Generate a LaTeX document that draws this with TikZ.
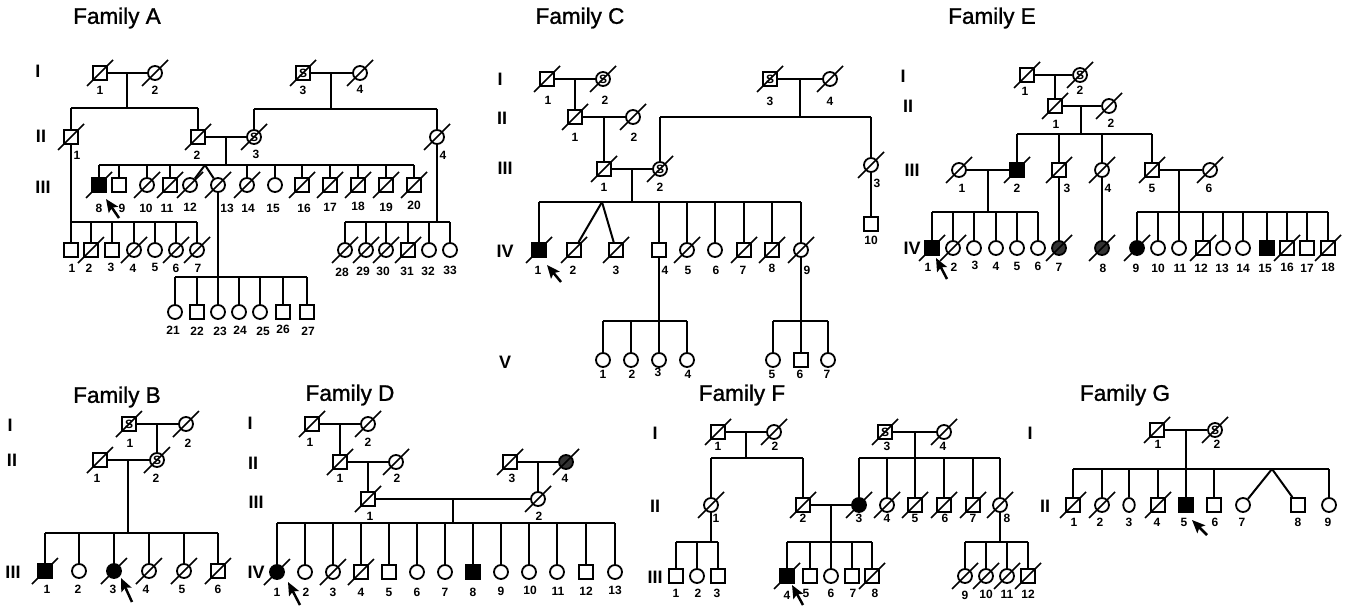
\documentclass[tikz,border=0pt]{standalone}
\usepackage{fontspec}
\setmainfont{Liberation Sans}
\newfontfamily\famfont{Liberation Sans}[FakeBold=1.2]
\usetikzlibrary{arrows.meta,shapes.geometric}

\tikzset{
  sq/.style={draw, rectangle, line width=1.8pt, minimum size=14pt, inner sep=0pt, fill=white},
  ci/.style={draw, circle, line width=1.8pt, minimum size=14pt, inner sep=0pt, fill=white},
  el/.style={draw, ellipse, line width=1.8pt, minimum width=11.5pt, minimum height=14pt, inner sep=0pt, fill=white},
  aff/.style={fill=black},
  grey/.style={fill=black!80},
  stxt/.style={font=\bfseries\fontsize{12}{12}\selectfont, inner sep=0pt},
  S/.style={label={[stxt]center:S}},
  slash/.style={line width=1.7pt},
  num/.style={font=\bfseries\fontsize{12}{12}\selectfont, inner sep=0pt},
  gen/.style={font=\bfseries\fontsize{18}{18}\selectfont, inner sep=0pt},
  title/.style={font=\famfont\fontsize{22.5}{22.5}\selectfont, inner sep=0pt},
  prob/.style={line width=2.5pt, -{Stealth[length=13pt,width=11pt,inset=2.5pt]}},
}

% #1 symbol style, #2 deceased flag, #3 name, #4 x, #5 y, #6 number, #7 number offset
\newcommand\pers[7]{%
  \node[#1] (#3) at (#4,#5) {};
  \ifnum#2=1\relax\draw[slash] ([shift={(-13,13)}]#3.center) -- ([shift={(13,-13)}]#3.center);\fi
  \node[num] (#3n) at ([shift={(#7)}]#3.center) {#6};
}

\begin{document}
\begin{tikzpicture}[x=1pt, y=-1pt, line width=2pt]
\fill[white] (0,0) rectangle (1348,607);
\useasboundingbox (0,0) rectangle (1348,607);

% ================= Family A =================
\node[title] (tA) at (117,18) {Family A};
\node[gen] (gA1) at (38,71) {I};
\node[gen] (gA2) at (41,136) {II};
\node[gen] (gA3) at (43,187) {III};

\pers{sq}{1}{A1-1}{100}{73}{1}{0,17}
\pers{ci}{1}{A1-2}{155}{73}{2}{0,17}
\pers{sq,S}{1}{A1-3}{303}{73}{3}{0,17}
\pers{ci}{1}{A1-4}{360}{73}{4}{0,16}
\pers{sq}{1}{A2-1}{71}{137}{1}{6,18}
\pers{sq}{1}{A2-2}{198}{137}{2}{-1,18}
\pers{ci,S}{1}{A2-3}{254}{137}{3}{2,17}
\pers{ci}{1}{A2-4}{437}{137}{4}{6,18}

\pers{sq,aff}{1}{A3-8}{99}{185}{8}{0,23}
\pers{sq}{0}{A3-9}{119}{185}{9}{3,23}
\pers{ci}{1}{A3-10}{147}{185}{10}{-1,23}
\pers{sq}{1}{A3-11}{170}{185}{11}{-3,23}
\pers{ci}{1}{A3-12}{190}{185}{12}{0,22}
\pers{ci}{1}{A3-13}{218}{185}{13}{9,23}
\pers{ci}{1}{A3-14}{247}{185}{14}{1,23}
\pers{ci}{0}{A3-15}{275}{185}{15}{-2,23}
\pers{sq}{1}{A3-16}{302}{185}{16}{2,23}
\pers{sq}{1}{A3-17}{330}{185}{17}{0,22}
\pers{sq}{1}{A3-18}{358}{185}{18}{0,21}
\pers{sq}{1}{A3-19}{386}{185}{19}{0,22}
\pers{sq}{1}{A3-20}{414}{185}{20}{0,20}

\pers{sq}{0}{A4-1}{71}{250}{1}{1,18}
\pers{sq}{1}{A4-2}{91}{250}{2}{-2,18}
\pers{sq}{0}{A4-3}{112}{250}{3}{-1,17}
\pers{ci}{1}{A4-4}{134}{250}{4}{-1,18}
\pers{ci}{0}{A4-5}{155}{250}{5}{0,17}
\pers{ci}{1}{A4-6}{176}{250}{6}{0,18}
\pers{ci}{1}{A4-7}{197}{250}{7}{1,18}

\pers{ci}{1}{A4-28}{345}{250}{28}{-3,22}
\pers{ci}{1}{A4-29}{366}{250}{29}{-3,21}
\pers{ci}{1}{A4-30}{386}{250}{30}{-3,21}
\pers{sq}{1}{A4-31}{408}{250}{31}{-1,21}
\pers{ci}{0}{A4-32}{429}{250}{32}{-1,21}
\pers{ci}{0}{A4-33}{450}{250}{33}{0,20}

\pers{ci}{0}{A4-21}{175}{312}{21}{-2,18}
\pers{sq}{0}{A4-22}{197}{312}{22}{0,19}
\pers{ci}{0}{A4-23}{218}{312}{23}{2,19}
\pers{ci}{0}{A4-24}{239}{312}{24}{1,18}
\pers{ci}{0}{A4-25}{260}{312}{25}{3,19}
\pers{sq}{0}{A4-26}{283}{312}{26}{0,17}
\pers{sq}{0}{A4-27}{307}{312}{27}{1,19}

\draw (A1-1) -- (A1-2);
\coordinate (A1m) at (127,73);
\coordinate (A2sL) at (71,108); \coordinate (A2sR) at (198,108);
\draw (A1m) -- (A1m |- A2sL);
\draw (A2sL) -- (A2sR);
\draw (A2sL) -- (A2-1); \draw (A2sR) -- (A2-2);
\draw (A1-3) -- (A1-4);
\coordinate (A1m2) at (331,73);
\coordinate (A2sL2) at (254,109); \coordinate (A2sR2) at (437,109);
\draw (A1m2) -- (A1m2 |- A2sL2); \draw (A2sL2) -- (A2sR2);
\draw (A2sL2) -- (A2-3); \draw (A2sR2) -- (A2-4);
\draw (A2-2) -- (A2-3);
\coordinate (A2m) at (226,137);
\coordinate (A3sL) at (99,165); \coordinate (A3sR) at (414,165);
\draw (A2m) -- (A2m |- A3sL); \draw (A3sL) -- (A3sR);
\foreach \k in {8,9,10,11,14,15,16,17,18,19,20} \draw (A3-\k |- A3sL) -- (A3-\k);
\coordinate (A3tw) at (205,165);
\draw (A3tw) -- (A3-12); \draw (A3tw) -- (A3-13);

\coordinate (A4sL) at (71,222); \coordinate (A4sR) at (197,222);
\draw (A2-1) -- (A4sL); \draw (A4sL) -- (A4sR);
\foreach \k in {1,...,7} \draw (A4-\k |- A4sL) -- (A4-\k);
\coordinate (A4sL3) at (345,222); \coordinate (A4sR3) at (450,222);
\draw (A2-4) -- (A2-4 |- A4sL3); \draw (A4sL3) -- (A4sR3);
\foreach \k in {28,...,33} \draw (A4-\k |- A4sL3) -- (A4-\k);
\coordinate (A4sL2) at (175,277); \coordinate (A4sR2) at (307,277);
\draw (A3-13) -- (A3-13 |- A4sL2); \draw (A4sL2) -- (A4sR2);
\foreach \k in {21,...,27} \draw (A4-\k |- A4sL2) -- (A4-\k);

\coordinate (Aa0) at (119,218); \coordinate (Aa1) at (106,199);
\draw[prob] (Aa0) -- (Aa1);

% ================= Family C =================
\node[title] (tC) at (580,18) {Family C};
\node[gen] (gC1) at (500,79) {I};
\node[gen] (gC2) at (502,118) {II};
\node[gen] (gC3) at (505,168) {III};
\node[gen] (gC4) at (505,251) {IV};
\node[gen] (gC5) at (505,362) {V};

\pers{sq}{1}{C1-1}{547}{79}{1}{1,21}
\pers{ci,S}{1}{C1-2}{603}{79}{2}{2,21}
\pers{sq,S}{1}{C1-3}{770}{79}{3}{0,22}
\pers{ci}{1}{C1-4}{830}{79}{4}{0,22}
\pers{sq}{1}{C2-1}{575}{117}{1}{0,20}
\pers{ci}{1}{C2-2}{633}{117}{2}{1,20}
\pers{sq}{1}{C3-1}{604}{169}{1}{0,18}
\pers{ci,S}{1}{C3-2}{660}{169}{2}{0,18}
\pers{ci}{1}{C3-3}{871}{165}{3}{6,18}
\pers{sq}{0}{C-10}{871}{224}{10}{0,16}

\pers{sq,aff}{1}{C4-1}{539}{250}{1}{-1,20}
\pers{sq}{1}{C4-2}{574}{250}{2}{-1,20}
\pers{sq}{1}{C4-3}{616}{250}{3}{0,20}
\pers{sq}{0}{C4-4}{659}{250}{4}{6,20}
\pers{ci}{1}{C4-5}{687}{250}{5}{1,20}
\pers{ci}{0}{C4-6}{715}{250}{6}{1,20}
\pers{sq}{1}{C4-7}{744}{250}{7}{-1,20}
\pers{sq}{1}{C4-8}{772}{250}{8}{0,18}
\pers{ci}{1}{C4-9}{801}{250}{9}{6,20}

\pers{ci}{0}{C5-1}{603}{360}{1}{0,14}
\pers{ci}{0}{C5-2}{631}{360}{2}{1,14}
\pers{ci}{0}{C5-3}{659}{360}{3}{-1,12}
\pers{ci}{0}{C5-4}{687}{360}{4}{1,14}
\pers{ci}{0}{C5-5}{773}{360}{5}{-1,14}
\pers{sq}{0}{C5-6}{801}{360}{6}{-1,14}
\pers{ci}{0}{C5-7}{828}{360}{7}{-1,14}

\draw (C1-1) -- (C1-2); \coordinate (C1m) at (575,79); \draw (C1m) -- (C2-1);
\draw (C2-1) -- (C2-2); \coordinate (C2m) at (604,117); \draw (C2m) -- (C3-1);
\draw (C3-1) -- (C3-2); \coordinate (C3m) at (632,169);
\coordinate (C4sL) at (539,202); \coordinate (C4sR) at (801,202);
\draw (C3m) -- (C3m |- C4sL); \draw (C4sL) -- (C4sR);
\foreach \k in {1,4,5,6,7,8,9} \draw (C4-\k |- C4sL) -- (C4-\k);
\coordinate (C4tw) at (602,202); \draw (C4tw) -- (C4-2); \draw (C4tw) -- (C4-3);
\draw (C1-3) -- (C1-4); \coordinate (C1m2) at (800,79);
\coordinate (C2sL) at (660,117); \coordinate (C2sR) at (871,117);
\draw (C1m2) -- (C1m2 |- C2sL); \draw (C2sL) -- (C2sR);
\draw (C2sL) -- (C3-2); \draw (C2sR) -- (C3-3);
\draw (C3-3) -- (C-10);
\coordinate (C5sL) at (603,321); \coordinate (C5sR) at (687,321);
\draw (C4-4) -- (C5-3); \draw (C5sL) -- (C5sR);
\foreach \k in {1,2,4} \draw (C5-\k |- C5sL) -- (C5-\k);
\coordinate (C5sL2) at (773,321); \coordinate (C5sR2) at (828,321);
\draw (C4-9) -- (C5-6); \draw (C5sL2) -- (C5sR2);
\draw (C5sL2) -- (C5-5); \draw (C5sR2) -- (C5-7);
\coordinate (Ca0) at (561,282); \coordinate (Ca1) at (547,265);
\draw[prob] (Ca0) -- (Ca1);

% ================= Family E =================
\node[title] (tE) at (992,18) {Family E};
\node[gen] (gE1) at (903,76) {I};
\node[gen] (gE2) at (908,106) {II};
\node[gen] (gE3) at (912,170) {III};
\node[gen] (gE4) at (912,248) {IV};

\pers{sq}{1}{E1-1}{1027}{75}{1}{-2,16}
\pers{ci,S}{1}{E1-2}{1080}{75}{2}{0,15}
\pers{sq}{1}{E2-1}{1055}{106}{1}{1,18}
\pers{ci}{1}{E2-2}{1109}{106}{2}{2,17}
\pers{ci}{1}{E3-1}{959}{170}{1}{3,18}
\pers{sq,aff}{1}{E3-2}{1017}{170}{2}{0,18}
\pers{sq}{1}{E3-3}{1059}{170}{3}{8,18}
\pers{ci}{1}{E3-4}{1102}{170}{4}{6,18}
\pers{sq}{1}{E3-5}{1152}{170}{5}{0,18}
\pers{ci}{1}{E3-6}{1210}{170}{6}{-1,18}

\pers{sq,aff}{1}{E4-1}{932}{248}{1}{-4,19}
\pers{ci}{1}{E4-2}{953}{248}{2}{1,19}
\pers{ci}{0}{E4-3}{974}{248}{3}{1,17}
\pers{ci}{0}{E4-4}{996}{248}{4}{0,18}
\pers{ci}{0}{E4-5}{1017}{248}{5}{0,18}
\pers{ci}{0}{E4-6}{1038}{248}{6}{0,18}
\pers{ci,grey}{1}{E4-7}{1059}{248}{7}{0,19}
\pers{ci,grey}{1}{E4-8}{1102}{248}{8}{1,20}
\pers{ci,aff}{1}{E4-9}{1137}{248}{9}{-1,20}
\pers{ci}{0}{E4-10}{1158}{248}{10}{0,20}
\pers{ci}{0}{E4-11}{1179}{248}{11}{1,20}
\pers{sq}{1}{E4-12}{1203}{248}{12}{-2,20}
\pers{ci}{0}{E4-13}{1223}{248}{13}{-1,20}
\pers{ci}{0}{E4-14}{1243}{248}{14}{0,20}
\pers{sq,aff}{0}{E4-15}{1267}{248}{15}{-2,20}
\pers{sq}{1}{E4-16}{1287}{248}{16}{0,19}
\pers{sq}{0}{E4-17}{1307}{248}{17}{0,20}
\pers{sq}{1}{E4-18}{1328}{248}{18}{0,19}

\draw (E1-1) -- (E1-2); \coordinate (E1m) at (1055,75); \draw (E1m) -- (E2-1);
\draw (E2-1) -- (E2-2); \coordinate (E2m) at (1081,106);
\coordinate (E3sL) at (1017,134); \coordinate (E3sR) at (1152,134);
\draw (E2m) -- (E2m |- E3sL); \draw (E3sL) -- (E3sR);
\foreach \k in {2,3,4,5} \draw (E3-\k |- E3sL) -- (E3-\k);
\draw (E3-1) -- (E3-2); \coordinate (E3m) at (988,170);
\coordinate (E4sL) at (932,212); \coordinate (E4sR) at (1038,212);
\draw (E3m) -- (E3m |- E4sL); \draw (E4sL) -- (E4sR);
\foreach \k in {1,...,6} \draw (E4-\k |- E4sL) -- (E4-\k);
\draw (E3-3) -- (E4-7); \draw (E3-4) -- (E4-8);
\draw (E3-5) -- (E3-6); \coordinate (E3m2) at (1179,170);
\coordinate (E4sL2) at (1137,212); \coordinate (E4sR2) at (1328,212);
\draw (E3m2) -- (E3m2 |- E4sL2); \draw (E4sL2) -- (E4sR2);
\foreach \k in {9,...,18} \draw (E4-\k |- E4sL2) -- (E4-\k);
\coordinate (Ea0) at (947,279); \coordinate (Ea1) at (936,258);
\draw[prob] (Ea0) -- (Ea1);

% ================= Family B =================
\node[title] (tB) at (117,397) {Family B};
\node[gen] (gB1) at (10,425) {I};
\node[gen] (gB2) at (12,460) {II};
\node[gen] (gB3) at (13,572) {III};

\pers{sq,S}{1}{B1-1}{129}{424}{1}{1,19}
\pers{ci}{1}{B1-2}{186}{424}{2}{2,19}
\pers{sq}{1}{B2-1}{100}{460}{1}{-3,18}
\pers{ci,S}{1}{B2-2}{157}{460}{2}{-1,18}
\pers{sq,aff}{1}{B3-1}{45}{571}{1}{2,18}
\pers{ci}{0}{B3-2}{79}{571}{2}{-1,18}
\pers{ci,aff}{1}{B3-3}{114}{571}{3}{-1,18}
\pers{ci}{1}{B3-4}{149}{571}{4}{-3,18}
\pers{ci}{1}{B3-5}{184}{571}{5}{-2,18}
\pers{sq}{1}{B3-6}{218}{571}{6}{0,18}

\draw (B1-1) -- (B1-2); \coordinate (B1m) at (157,424); \draw (B1m) -- (B2-2);
\draw (B2-1) -- (B2-2); \coordinate (B2m) at (128,460);
\coordinate (B3sL) at (45,533); \coordinate (B3sR) at (218,533);
\draw (B2m) -- (B2m |- B3sL); \draw (B3sL) -- (B3sR);
\foreach \k in {1,...,6} \draw (B3-\k |- B3sL) -- (B3-\k);
\coordinate (Ba0) at (132,602); \coordinate (Ba1) at (121,578);
\draw[prob] (Ba0) -- (Ba1);

% ================= Family D =================
\node[title] (tD) at (350,395) {Family D};
\node[gen] (gD1) at (250,423) {I};
\node[gen] (gD2) at (253,463) {II};
\node[gen] (gD3) at (256,502) {III};
\node[gen] (gD4) at (256,572) {IV};

\pers{sq}{1}{D1-1}{312}{424}{1}{-2,18}
\pers{ci}{1}{D1-2}{368}{424}{2}{0,18}
\pers{sq}{1}{D2-1}{340}{462}{1}{0,16}
\pers{ci}{1}{D2-2}{396}{462}{2}{1,16}
\pers{sq}{1}{D2-3}{510}{462}{3}{2,16}
\pers{ci,grey}{1}{D2-4}{566}{462}{4}{-1,16}
\pers{sq}{1}{D3-1}{368}{499}{1}{2,17}
\pers{ci}{1}{D3-2}{538}{499}{2}{1,17}

\pers{ci,aff}{1}{D4-1}{277}{572}{1}{0,20}
\pers{ci}{0}{D4-2}{305}{572}{2}{1,20}
\pers{ci}{1}{D4-3}{333}{572}{3}{0,20}
\pers{sq}{1}{D4-4}{361}{572}{4}{0,20}
\pers{sq}{0}{D4-5}{389}{572}{5}{0,20}
\pers{ci}{0}{D4-6}{417}{572}{6}{0,20}
\pers{ci}{0}{D4-7}{445}{572}{7}{0,20}
\pers{sq,aff}{0}{D4-8}{473}{572}{8}{0,20}
\pers{ci}{0}{D4-9}{501}{572}{9}{0,19}
\pers{ci}{0}{D4-10}{529}{572}{10}{1,18}
\pers{ci}{0}{D4-11}{557}{572}{11}{1,19}
\pers{sq}{0}{D4-12}{586}{572}{12}{0,19}
\pers{ci}{0}{D4-13}{615}{572}{13}{0,18}

\draw (D1-1) -- (D1-2); \coordinate (D1m) at (340,424); \draw (D1m) -- (D2-1);
\draw (D2-1) -- (D2-2); \coordinate (D2m) at (368,462); \draw (D2m) -- (D3-1);
\draw (D2-3) -- (D2-4); \coordinate (D2m2) at (538,462); \draw (D2m2) -- (D3-2);
\draw (D3-1) -- (D3-2); \coordinate (D3m) at (453,499);
\coordinate (D4sL) at (277,523); \coordinate (D4sR) at (615,523);
\draw (D3m) -- (D3m |- D4sL); \draw (D4sL) -- (D4sR);
\foreach \k in {1,...,13} \draw (D4-\k |- D4sL) -- (D4-\k);
\coordinate (Da0) at (300,605); \coordinate (Da1) at (288,582);
\draw[prob] (Da0) -- (Da1);

% ================= Family F =================
\node[title] (tF) at (742,395) {Family F};
\node[gen] (gF1) at (655,433) {I};
\node[gen] (gF2) at (655,506) {II};
\node[gen] (gF3) at (655,577) {III};

\pers{sq}{1}{F1-1}{718}{432}{1}{0,14}
\pers{ci}{1}{F1-2}{774}{432}{2}{1,14}
\pers{sq,S}{1}{F1-3}{885}{432}{3}{2,14}
\pers{ci}{1}{F1-4}{944}{432}{4}{-1,14}
\pers{ci}{1}{F2-1}{711}{505}{1}{5,13}
\pers{sq}{1}{F2-2}{803}{505}{2}{0,13}
\pers{ci,aff}{1}{F2-3}{859}{505}{3}{0,13}
\pers{ci}{1}{F2-4}{887}{505}{4}{0,13}
\pers{sq}{1}{F2-5}{915}{505}{5}{0,13}
\pers{sq}{1}{F2-6}{944}{505}{6}{1,13}
\pers{sq}{1}{F2-7}{973}{505}{7}{0,13}
\pers{ci}{1}{F2-8}{1000}{505}{8}{7,13}

\pers{sq}{0}{F3-1}{676}{576}{1}{0,17}
\pers{ci}{0}{F3-2}{697}{576}{2}{1,17}
\pers{sq}{0}{F3-3}{718}{576}{3}{-1,17}
\pers{sq,aff}{1}{F3-4}{787}{576}{4}{0,19}
\pers{sq}{0}{F3-5}{810}{576}{5}{-4,17}
\pers{ci}{0}{F3-6}{831}{576}{6}{0,17}
\pers{sq}{0}{F3-7}{852}{576}{7}{1,17}
\pers{sq}{1}{F3-8}{872}{576}{8}{3,17}
\pers{ci}{1}{F3-9}{965}{576}{9}{0,19}
\pers{ci}{1}{F3-10}{986}{576}{10}{0,18}
\pers{ci}{1}{F3-11}{1007}{576}{11}{0,18}
\pers{sq}{1}{F3-12}{1028}{576}{12}{0,18}

\draw (F1-1) -- (F1-2); \coordinate (F1m) at (746,432);
\coordinate (F2sL) at (711,458); \coordinate (F2sR) at (803,458);
\draw (F1m) -- (F1m |- F2sL); \draw (F2sL) -- (F2sR);
\draw (F2sL) -- (F2-1); \draw (F2sR) -- (F2-2);
\draw (F1-3) -- (F1-4); \coordinate (F1m2) at (915,432);
\coordinate (F2sL2) at (859,458); \coordinate (F2sR2) at (1000,458);
\draw (F1m2) -- (F1m2 |- F2sL2); \draw (F2sL2) -- (F2sR2);
\foreach \k in {3,...,8} \draw (F2-\k |- F2sL2) -- (F2-\k);
\draw (F2-2) -- (F2-3); \coordinate (F2m) at (831,505);
\coordinate (F3sL2) at (787,542); \coordinate (F3sR2) at (872,542);
\draw (F2m) -- (F2m |- F3sL2); \draw (F3sL2) -- (F3sR2);
\foreach \k in {4,...,8} \draw (F3-\k |- F3sL2) -- (F3-\k);
\coordinate (F3sL) at (676,542); \coordinate (F3sR) at (718,542);
\draw (F2-1) -- (F2-1 |- F3sL); \draw (F3sL) -- (F3sR);
\foreach \k in {1,2,3} \draw (F3-\k |- F3sL) -- (F3-\k);
\coordinate (F3sL3) at (965,542); \coordinate (F3sR3) at (1028,542);
\draw (F2-8) -- (F2-8 |- F3sL3); \draw (F3sL3) -- (F3sR3);
\foreach \k in {9,...,12} \draw (F3-\k |- F3sL3) -- (F3-\k);
\coordinate (Fa0) at (803,605); \coordinate (Fa1) at (792,585);
\draw[prob] (Fa0) -- (Fa1);

% ================= Family G =================
\node[title] (tG) at (1125,395) {Family G};
\node[gen] (gG1) at (1030,433) {I};
\node[gen] (gG2) at (1045,506) {II};

\pers{sq}{1}{G1-1}{1157}{430}{1}{1,14}
\pers{ci,S}{1}{G1-2}{1215}{430}{2}{2,14}
\pers{sq}{1}{G2-1}{1073}{505}{1}{1,17}
\pers{ci}{1}{G2-2}{1102}{505}{2}{-2,17}
\pers{el}{0}{G2-3}{1129}{505}{3}{0,17}
\pers{sq}{1}{G2-4}{1158}{505}{4}{-1,17}
\pers{sq,aff}{0}{G2-5}{1186}{505}{5}{-2,17}
\pers{sq}{0}{G2-6}{1214}{505}{6}{1,17}
\pers{ci}{0}{G2-7}{1243}{505}{7}{-1,17}
\pers{sq}{0}{G2-8}{1298}{505}{8}{0,17}
\pers{ci}{0}{G2-9}{1329}{505}{9}{-1,17}

\draw (G1-1) -- (G1-2); \coordinate (G1m) at (1186,430);
\coordinate (G2sL) at (1073,469); \coordinate (G2sR) at (1329,469);
\draw (G1m) -- (G1m |- G2sL); \draw (G2sL) -- (G2sR);
\foreach \k in {1,...,6,9} \draw (G2-\k |- G2sL) -- (G2-\k);
\coordinate (G2tw) at (1272,469);
\draw (G2tw) -- (G2-7); \draw (G2tw) -- (G2-8);
\coordinate (Ga0) at (1207,535); \coordinate (Ga1) at (1192,520);
\draw[prob] (Ga0) -- (Ga1);
\end{tikzpicture}
\end{document}
